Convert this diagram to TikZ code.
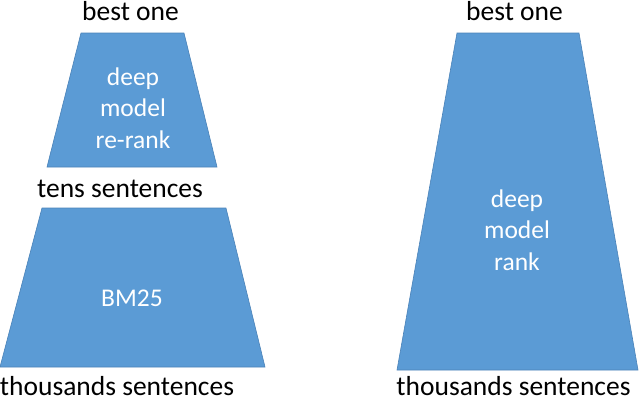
\documentclass[tikz,border=0pt]{standalone}
\usepackage{fontspec}
\setmainfont{Carlito}
\definecolor{boxblue}{HTML}{5B9BD5}
\definecolor{edgeblue}{HTML}{4A82B8}
\tikzset{
  trap/.style={fill=boxblue, draw=edgeblue, line width=0.6pt},
  inner/.style={text=white, font=\fontsize{25.5}{31.5}\selectfont, align=center, inner sep=0pt},
  outer/.style={text=black, font=\fontsize{27.5}{32}\selectfont, inner sep=0pt, anchor=base}
}
\begin{document}
\begin{tikzpicture}[x=1pt,y=-1pt]
\useasboundingbox (0,0) rectangle (640,400);
% left top trapezoid
\path[trap] (81,33) -- (184,33) -- (217,167) -- (47,167) -- cycle;
% left bottom trapezoid
\path[trap] (42,208) -- (226,208) -- (265,367) -- (0,367) -- cycle;
% right trapezoid
\path[trap] (457,33) -- (579,33) -- (638,370) -- (397,370) -- cycle;
\node[inner] (rerank) at (133,108) {deep\\model\\re-rank};
\node[inner, anchor=base] (bm) at (132,306) {BM25};
\node[inner] (rank) at (517,230) {deep\\model\\rank};
\node[outer] (best1) at (130.5,20) {best one};
\node[outer] (tens) at (120,197) {tens sentences};
\node[outer] (thou1) at (117,395.5) {thousands sentences};
\node[outer] (best2) at (514.5,20) {best one};
\node[outer] (thou2) at (513.5,395.5) {thousands sentences};
\end{tikzpicture}
\end{document}
